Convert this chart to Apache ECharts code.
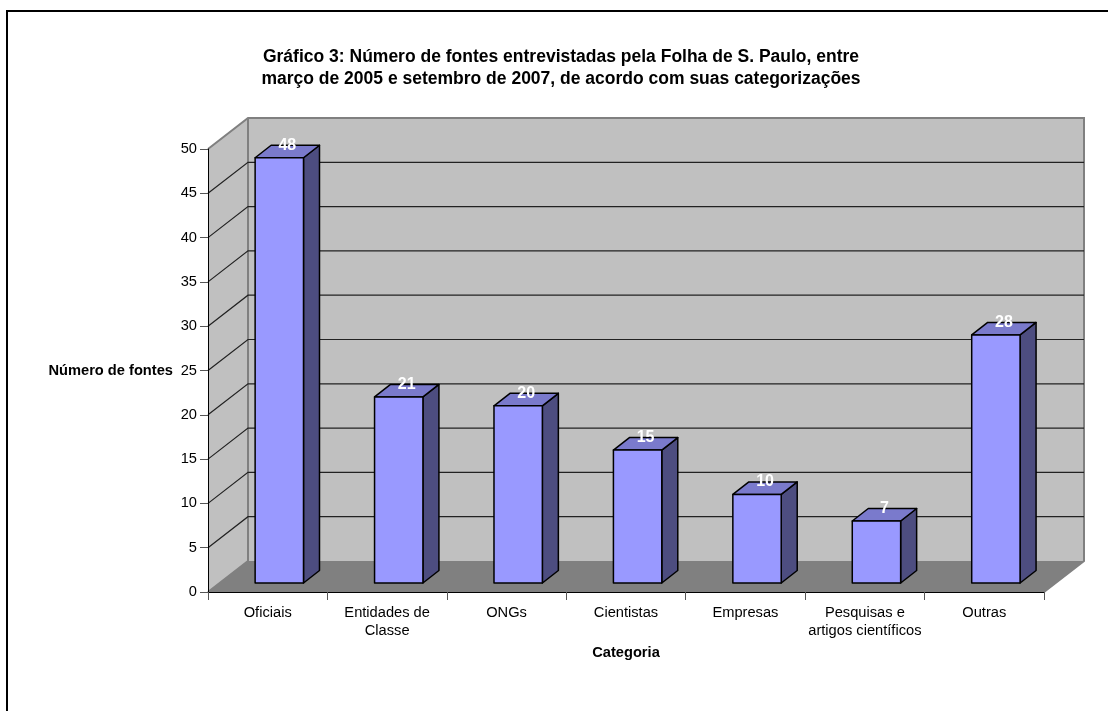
<!DOCTYPE html>
<html><head><meta charset="utf-8">
<style>html,body{margin:0;padding:0;background:#fff}#c{width:1108px;height:711px}</style>
<script src="https://cdn.jsdelivr.net/npm/echarts@6/dist/echarts.min.js"></script>
</head><body><div id="c"></div>
<script>
const categories = ['Oficiais','Entidades de\nClasse','ONGs','Cientistas','Empresas','Pesquisas e\nartigos científicos','Outras'];
const values = [48,21,20,15,10,7,28];
const yTicks = [5,10,15,20,25,30,35,40,45,50];
const titleText = 'Gráfico 3: Número de fontes entrevistadas pela Folha de S. Paulo, entre\nmarço de 2005 e setembro de 2007, de acordo com suas categorizações';

const FONT = '"Liberation Sans", Arial, sans-serif';
const WALL = [40, -31], BAR_DEPTH = [16, -12.5], BAR_OFFSET = [0, -9];
const pt = (x, y, d) => [x + d[0], y + d[1]];

const chart = echarts.init(document.getElementById('c'), null, {renderer:'canvas'});
chart.setOption({
  animation:false,
  backgroundColor:'#fff',
  title:{text:titleText,left:556,top:41,textAlign:'center',
    textStyle:{fontFamily:FONT,fontSize:17.5,fontWeight:'bold',color:'#000',lineHeight:22}},
  grid:{left:208,top:149,width:836,height:443},
  xAxis:{type:'category',data:categories,z:5,
    name:'Categoria',nameLocation:'middle',nameGap:53,
    nameTextStyle:{fontFamily:FONT,fontSize:14.67,fontWeight:'bold',color:'#000'},
    axisLine:{lineStyle:{color:'#000',width:1}},
    axisTick:{show:true,length:8,alignWithLabel:false,lineStyle:{color:'#555'}},
    axisLabel:{interval:0,margin:12,fontFamily:FONT,fontSize:14.67,color:'#000',lineHeight:18},
    splitLine:{show:false}},
  yAxis:{type:'value',min:0,max:50,interval:5,z:5,
    name:'Número de fontes',nameLocation:'middle',nameRotate:0,nameGap:35,
    nameTextStyle:{fontFamily:FONT,fontSize:14.67,fontWeight:'bold',color:'#000'},
    axisLine:{show:true,lineStyle:{color:'#000',width:1}},
    axisTick:{show:true,length:8,lineStyle:{color:'#555'}},
    axisLabel:{margin:11,fontFamily:FONT,fontSize:14.67,color:'#000'},
    splitLine:{show:false}},
  graphic:[{type:'polyline',silent:true,z:-1,
    shape:{points:[[7,711],[7,11],[1108,11]]},
    style:{fill:null,stroke:'#000',lineWidth:2}}],
  series:[
    {type:'custom',z:1,silent:true,data:[0],encode:{x:-1,y:-1},
     renderItem(p,api){
      const c=p.coordSys, L=c.x, R=c.x+c.width, T=c.y, B=c.y+c.height;
      const edge={fill:null,stroke:'#808080',lineWidth:2};
      return {type:'group',children:[
        {type:'polygon',shape:{points:[[L,B],[L,T],pt(L,T,WALL),pt(L,B,WALL)]},style:{fill:'#C0C0C0',stroke:null}},
        {type:'polygon',shape:{points:[pt(L,T,WALL),pt(R,T,WALL),pt(R,B,WALL),pt(L,B,WALL)]},style:{fill:'#C0C0C0',stroke:null}},
        {type:'polygon',shape:{points:[[L,B],[R,B],pt(R,B,WALL),pt(L,B,WALL)]},style:{fill:'#808080',stroke:null}},
        {type:'polyline',shape:{points:[[L,T],pt(L,T,WALL),pt(R,T,WALL),pt(R,B,WALL),[R,B]]},style:edge},
        {type:'polyline',shape:{points:[pt(L,T,WALL),pt(L,B,WALL),[L,B]]},style:edge}
      ]};
     }},
    {type:'custom',z:2,silent:true,data:yTicks.filter(v=>v<50),encode:{y:0},
     renderItem(p,api){
      const c=p.coordSys, L=c.x, R=c.x+c.width, y=api.coord([0,api.value(0)])[1];
      return {type:'polyline',shape:{points:[[L,y],pt(L,y,WALL),pt(R,y,WALL)]},
        style:{fill:null,stroke:'#222',lineWidth:1.2}};
     }},
    {type:'custom',z:3,silent:true,data:values.map((v,i)=>[i,v]),encode:{x:0,y:1},
     renderItem(p,api){
      const i=api.value(0), v=api.value(1);
      const band=api.size([1,0])[0], w=band*0.405;
      const top0=api.coord([i,v]), base0=api.coord([i,0]);
      const cx=top0[0]+WALL[0]*0.29, dy=BAR_OFFSET[1];
      const l=cx-w/2, r=cx+w/2, t=top0[1]+dy, b=base0[1]+dy;
      const st=(fill)=>({fill,stroke:'#000',lineWidth:1.5,lineJoin:'round'});
      return {type:'group',children:[
        {type:'polygon',shape:{points:[[r,t],pt(r,t,BAR_DEPTH),pt(r,b,BAR_DEPTH),[r,b]]},style:st('#4D4D80')},
        {type:'polygon',shape:{points:[[l,t],pt(l,t,BAR_DEPTH),pt(r,t,BAR_DEPTH),[r,t]]},style:st('#7A7ACC')},
        {type:'rect',shape:{x:l,y:t,width:w,height:b-t},style:st('#9999FF')},
        {type:'text',x:cx+BAR_DEPTH[0]/2,y:t+BAR_DEPTH[1],
         style:{text:String(v),fill:'#fff',font:'bold 16px '+FONT,textAlign:'center',textVerticalAlign:'middle'}}
      ]};
     }}
  ]
});
</script></body></html>
